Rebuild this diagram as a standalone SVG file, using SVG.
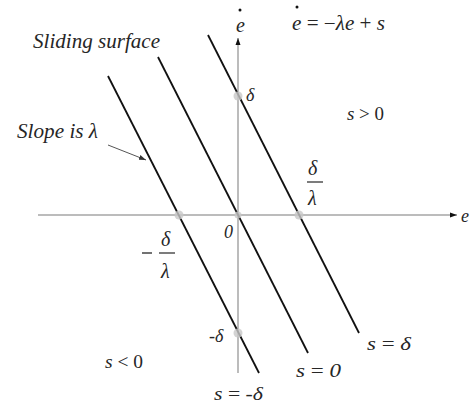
<svg xmlns="http://www.w3.org/2000/svg" width="471" height="404" viewBox="0 0 471 404">
<style>
text{font-family:"Liberation Serif","Times New Roman",serif;fill:#262626;font-style:italic}
.up{font-style:normal}
.axis{stroke:#a6a6a6;stroke-width:1.5;fill:none}
.line{stroke:#111;stroke-width:1.8;fill:none}
.dot{fill:#c8c8c8;opacity:0.8}
.lbl{font-size:18px}
.big{font-size:20px}
</style>
<defs>
<marker id="ah" markerWidth="8" markerHeight="8" refX="7" refY="4" orient="auto" markerUnits="userSpaceOnUse">
<path d="M0,1.5 L7,4 L0,6.5 Z" fill="#111"/>
</marker>
<marker id="ah2" markerWidth="8" markerHeight="8" refX="7" refY="4" orient="auto" markerUnits="userSpaceOnUse">
<path d="M0,1.5 L7,4 L0,6.5 Z" fill="#333"/>
</marker>
</defs>
<rect width="471" height="404" fill="#fff"/>
<g id="connectors">
<line class="axis" x1="38" y1="215" x2="457" y2="215" marker-end="url(#ah)"/>
<line class="axis" x1="238" y1="373" x2="238" y2="38" marker-end="url(#ah)"/>
<line x1="108" y1="145" x2="146" y2="160" stroke="#555" stroke-width="1" marker-end="url(#ah2)"/>
</g>
<g id="lines">
<line id="s-minus-delta" class="line" x1="108" y1="76" x2="259" y2="373"/>
<line id="s-zero" class="line" x1="158" y1="57" x2="308" y2="353"/>
<line id="s-delta" class="line" x1="208" y1="35" x2="359" y2="333"/>
</g>
<g id="dots">
<circle class="dot" cx="238" cy="96" r="4.5"/>
<circle class="dot" cx="238" cy="333" r="4.5"/>
<circle class="dot" cx="179" cy="215" r="4.5"/>
<circle class="dot" cx="299" cy="215" r="4.5"/>
<circle class="dot" cx="238" cy="215" r="3.5"/>
</g>
<g id="labels">
<text class="big" x="33" y="48" textLength="127" lengthAdjust="spacingAndGlyphs">Sliding surface</text>
<text class="big" x="17" y="138" textLength="81" lengthAdjust="spacingAndGlyphs">Slope is λ</text>
<circle cx="240" cy="10" r="1.5" fill="#111"/>
<text class="big" x="236" y="32">e</text>
<circle cx="297" cy="7" r="1.5" fill="#111"/>
<text class="big" x="292" y="30" textLength="93" lengthAdjust="spacingAndGlyphs">e<tspan class="up"> = −</tspan>λe<tspan class="up"> + </tspan>s</text>
<text class="lbl" x="461" y="222">e</text>
<text class="lbl" x="246" y="101">δ</text>
<text class="lbl" x="347" y="120" textLength="37" lengthAdjust="spacingAndGlyphs">s<tspan class="up"> &gt; 0</tspan></text>
<text class="big" x="308" y="175">δ</text>
<line x1="307" y1="182" x2="323" y2="182" stroke="#262626" stroke-width="1.2"/>
<text class="big" x="308" y="205">λ</text>
<text class="lbl" x="224" y="238">0</text>
<line x1="142" y1="253" x2="152" y2="253" stroke="#262626" stroke-width="1.3"/>
<text class="big" x="161" y="246">δ</text>
<line x1="159" y1="253" x2="175" y2="253" stroke="#262626" stroke-width="1.2"/>
<text class="big" x="161" y="278">λ</text>
<text class="lbl" x="209" y="342">-δ</text>
<text class="lbl" x="105" y="368" textLength="38" lengthAdjust="spacingAndGlyphs">s<tspan class="up"> &lt; 0</tspan></text>
<text class="lbl" x="214" y="400" textLength="49" lengthAdjust="spacingAndGlyphs">s<tspan class="up"> = -</tspan>δ</text>
<text class="lbl" x="296" y="377" textLength="45" lengthAdjust="spacingAndGlyphs">s<tspan class="up"> = </tspan>0</text>
<text class="lbl" x="367" y="350" textLength="44" lengthAdjust="spacingAndGlyphs">s<tspan class="up"> = </tspan>δ</text>
</g>
</svg>
